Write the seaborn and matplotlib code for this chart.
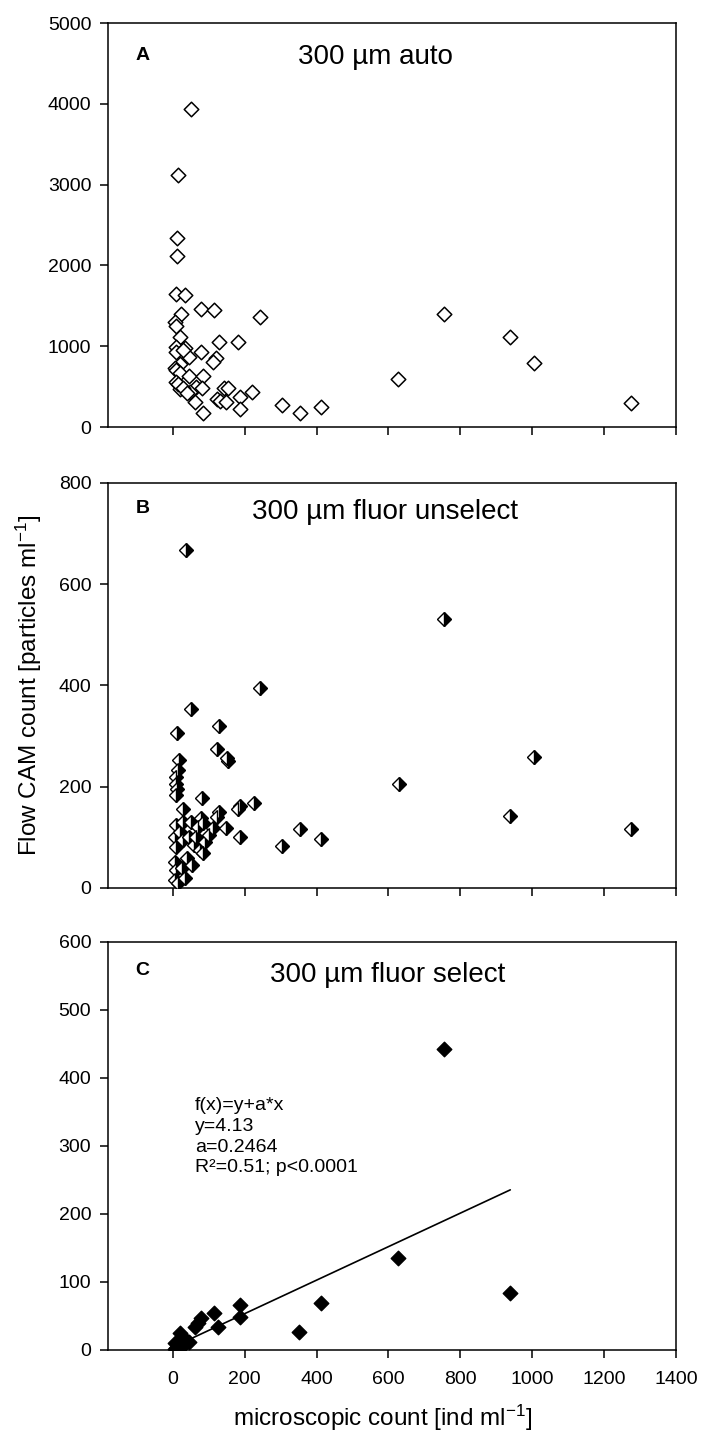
import numpy as np
import pandas as pd
import matplotlib
matplotlib.use("Agg")
import matplotlib.pyplot as plt
import seaborn as sns

# ---------------- data ----------------
# Panel A: 300 µm auto
a_x = [52, 15, 12, 12, 8, 35, 80, 115, 244, 24, 6, 8, 19, 129, 181, 8, 33, 80, 121, 112,
       45, 10, 29, 21, 6, 8, 19, 45, 84, 10, 19, 66, 82, 144, 154, 47, 220, 186, 123, 131,
       149, 61, 186, 84, 305, 353, 413, 626, 754, 939, 1004, 1274, 15, 30, 40]
a_y = [3932, 3119, 2343, 2116, 1646, 1634, 1456, 1448, 1357, 1398, 1303, 1250, 1110, 1056,
       1056, 994, 974, 932, 850, 808, 862, 932, 953, 780, 726, 700, 664, 631, 631, 561,
       466, 499, 479, 479, 479, 437, 437, 367, 342, 322, 313, 313, 219, 169, 272, 177,
       243, 590, 1398, 1110, 796, 293, 530, 480, 420]

# Panel B: 300 µm fluor unselect
b_x = [36, 244, 52, 13, 129, 123, 154, 150, 17, 15, 10, 8, 12, 10, 82, 186, 182, 225, 629,
       29, 129, 123, 80, 84, 147, 353, 305, 413, 186, 112, 754, 1006, 939, 1274, 8, 6, 8,
       5, 8, 6, 20, 30, 45, 60, 75, 40, 55, 25, 35, 15, 90, 100, 70, 50, 30, 65, 85]
b_y = [668, 396, 353, 306, 320, 274, 251, 257, 253, 233, 219, 205, 195, 184, 177, 161, 157,
       167, 205, 157, 151, 141, 138, 128, 118, 116, 83, 96, 101, 118, 531, 258, 143, 117,
       124, 101, 81, 51, 36, 16, 110, 95, 100, 85, 75, 60, 45, 40, 20, 10, 90, 105, 120,
       130, 130, 100, 70]

# Panel C: 300 µm fluor select
c_x = [755, 626, 413, 351, 939, 186, 186, 115, 126, 80, 70, 61, 19, 6, 38, 24, 10, 30, 45, 15, 5]
c_y = [443, 136, 69, 27, 84, 66, 49, 54, 34, 47, 40, 34, 25, 10, 15, 5, 3, 8, 12, 2, 1]

fit_intercept = 4.13
fit_slope = 0.2464

panel_letters = ["A", "B", "C"]
panel_titles = ["300 µm auto", "300 µm fluor unselect", "300 µm fluor select"]
x_ticks = [0, 200, 400, 600, 800, 1000, 1200, 1400]
a_yticks = [0, 1000, 2000, 3000, 4000, 5000]
b_yticks = [0, 200, 400, 600, 800]
c_yticks = [0, 100, 200, 300, 400, 500, 600]
fit_text = "f(x)=y+a*x\ny=4.13\na=0.2464\nR²=0.51; p<0.0001"

# ---------------- style ----------------
sns.set_style("ticks")
plt.rcParams['font.family'] = ['Liberation Sans', 'DejaVu Sans']
plt.rcParams['mathtext.fontset'] = 'custom'
plt.rcParams['mathtext.rm'] = 'Liberation Sans'
plt.rcParams['mathtext.it'] = 'Liberation Sans:italic'
plt.rcParams['mathtext.bf'] = 'Liberation Sans:bold'
plt.rcParams['text.color'] = 'black'
plt.rcParams['axes.labelcolor'] = 'black'

fig = plt.figure(figsize=(7.01, 14.38), dpi=100)
W, H = 701, 1438
left, width = 108 / W, 568 / W
axA = fig.add_axes([left, 1 - 427 / H, width, 404 / H])
axB = fig.add_axes([left, 1 - 888 / H, width, 405 / H])
axC = fig.add_axes([left, 1 - 1350 / H, width, 408 / H])
axes = [axA, axB, axC]

ms = 7.4
# A: open diamonds
sns.scatterplot(x=a_x, y=a_y, ax=axA, marker="D", s=ms ** 2, facecolor="white",
                edgecolor="black", linewidth=1.1, zorder=3)
# B: half-filled diamonds
sns.lineplot(x=b_x, y=b_y, ax=axB, estimator=None, sort=False, linestyle="",
             marker="D", markersize=ms * 0.95, fillstyle="right", color="black",
             markerfacecolor="black", markerfacecoloralt="white",
             markeredgecolor="black", markeredgewidth=1.0, zorder=3)
# C: filled diamonds + regression line
fx = np.array([min(c_x), max(c_x)])
sns.lineplot(x=fx, y=fit_intercept + fit_slope * fx, ax=axC, color="black",
             linewidth=1.2, zorder=2)
sns.scatterplot(x=c_x, y=c_y, ax=axC, marker="D", s=ms ** 2, color="black",
                edgecolor="black", linewidth=1.0, zorder=3)

ylims = [(0, 5000), (0, 800), (0, 600)]
yticks = [a_yticks, b_yticks, c_yticks]
title_x = [(298 - 108) / 568, (252 - 108) / 568, (270 - 108) / 568]
title_y = [0.916, 0.928, 0.919]
letter_y = [0.92, 0.936, 0.931]

for i, ax in enumerate(axes):
    ax.set_xlim(-180, 1400)
    ax.set_ylim(*ylims[i])
    ax.set_xticks(x_ticks)
    ax.set_yticks(yticks[i])
    for sp in ax.spines.values():
        sp.set_visible(True)
        sp.set_color("black")
        sp.set_linewidth(1.1)
    ax.tick_params(direction="out", length=6, width=1.1, colors="black",
                   labelsize=14, pad=6)
    ax.tick_params(axis="x", pad=9)
    if i < 2:
        ax.tick_params(axis="x", labelbottom=False)
    ax.text(0.048, letter_y[i], panel_letters[i], transform=ax.transAxes,
            fontsize=14, fontweight="bold", ha="left", va="center", color="black")
    ax.text(title_x[i], title_y[i], panel_titles[i], transform=ax.transAxes,
            fontsize=20, ha="left", va="center", color="black")
    ax.set_xlabel("")
    ax.set_ylabel("")

axC.text(0.153, 0.523, fit_text, transform=axC.transAxes, fontsize=14,
         ha="left", va="center", linespacing=1.3, color="black")

axB.set_ylabel(r"Flow CAM count [particles ml$^{\mathregular{-1}}$]", fontsize=17.5)
axB.yaxis.set_label_coords(-0.112, 0.5)
axC.set_xlabel(r"microscopic count [ind ml$^{\mathregular{-1}}$]", fontsize=17.5)
axC.xaxis.set_label_coords(0.484, -0.13)

fig.savefig("out.png", dpi=100)
